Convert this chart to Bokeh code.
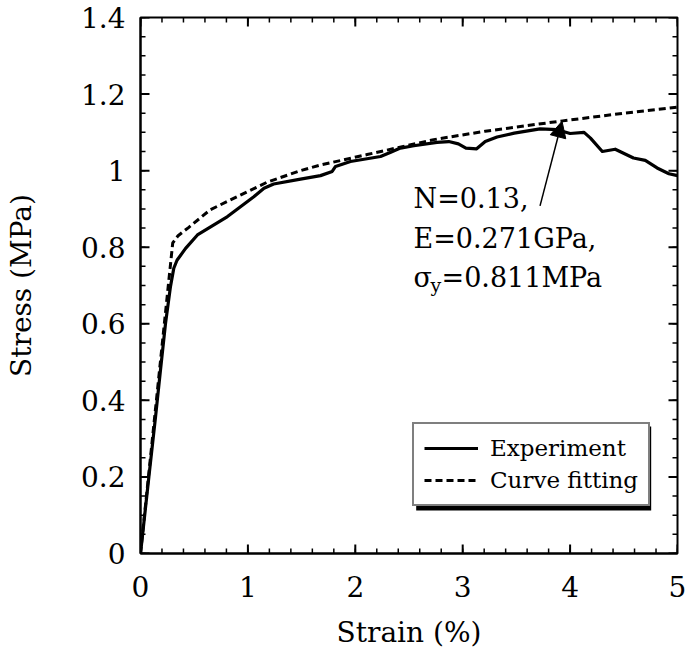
import numpy as np
from bokeh.plotting import figure
from bokeh.models import (Range1d, FixedTicker, Legend, LegendItem,
                          Label, Arrow, NormalHead, BoxAnnotation)
from bokeh.embed import file_html
from bokeh.resources import INLINE

# ---------------- data ----------------
exp_strain = [0.0, 0.078, 0.14, 0.186, 0.233, 0.279, 0.31, 0.34, 0.42, 0.53, 0.81,
              1.055, 1.15, 1.24, 1.49, 1.676, 1.785, 1.816, 1.955, 2.235, 2.33,
              2.42, 2.545, 2.76, 2.87, 2.96, 3.03, 3.13, 3.21, 3.32, 3.48, 3.72,
              3.88, 4.0, 4.13, 4.19, 4.30, 4.42, 4.59, 4.70, 4.81, 4.92, 5.0]
exp_stress = [0.0, 0.20, 0.357, 0.479, 0.601, 0.697, 0.745, 0.766, 0.797, 0.832, 0.880,
              0.932, 0.954, 0.965, 0.978, 0.987, 0.998, 1.011, 1.024, 1.037, 1.048,
              1.059, 1.065, 1.074, 1.076, 1.070, 1.059, 1.057, 1.076, 1.088, 1.098, 1.109,
              1.107, 1.097, 1.100, 1.085, 1.050, 1.056, 1.033, 1.027, 1.007, 0.992, 0.987]

fit_strain = [0.0, 0.30, 0.35, 0.45, 0.65, 0.9, 1.18, 1.49, 1.68, 2.11, 2.73,
              3.21, 3.93, 4.5, 5.0]
fit_stress = [0.0, 0.811, 0.83, 0.852, 0.898, 0.932, 0.970, 1.000, 1.015, 1.042, 1.081,
              1.103, 1.130, 1.150, 1.166]

x_ticks = [0, 1, 2, 3, 4, 5]
x_tick_labels = ["0", "1", "2", "3", "4", "5"]
y_ticks = [0, 0.2, 0.4, 0.6, 0.8, 1.0, 1.2, 1.4]
y_tick_labels = ["0", "0.2", "0.4", "0.6", "0.8", "1", "1.2", "1.4"]
x_minor_step = 0.2
y_minor_step = 0.05

series_names = ["Experiment", "Curve fitting"]
annot_lines = ["N=0.13,", "E=0.271GPa,"]
annot_sigma = ["\u03c3", "y", "=0.811MPa"]

FONT = "DejaVu Serif"
X0, X1, Y0, Y1 = 0, 5, 0, 1.4

p = figure(width=686, height=663, x_range=Range1d(X0, X1), y_range=Range1d(Y0, Y1),
           output_backend="svg", toolbar_location=None,
           min_border_left=140, min_border_right=9, min_border_top=17, min_border_bottom=110,
           background_fill_color="white", border_fill_color="white")
p.grid.visible = False
p.outline_line_color = "black"
p.outline_line_width = 2

# ---------------- axes (labels only; tick marks drawn below) ----------------
for ax, ticks, labels in ((p.xaxis[0], x_ticks, x_tick_labels),
                          (p.yaxis[0], y_ticks, y_tick_labels)):
    ax.ticker = FixedTicker(ticks=ticks, minor_ticks=[])
    ax.major_label_overrides = {t: l for t, l in zip(ticks, labels)}
    ax.axis_line_color = "black"
    ax.axis_line_width = 2
    ax.major_tick_in = 0
    ax.major_tick_out = 0
    ax.minor_tick_in = 0
    ax.minor_tick_out = 0
    ax.major_label_text_font = FONT
    ax.major_label_text_color = "black"
    ax.major_label_text_font_size = "28px"
    ax.axis_label_text_font = FONT
    ax.axis_label_text_font_style = "normal"
    ax.axis_label_text_color = "black"
    ax.axis_label_text_font_size = "28px"

p.xaxis[0].axis_label = "Strain (%)"
p.xaxis[0].major_label_standoff = 22
p.xaxis[0].axis_label_standoff = 16
p.yaxis[0].axis_label = "Stress (MPa)"
p.yaxis[0].major_label_standoff = 15
p.yaxis[0].axis_label_standoff = 40

# ---------------- inward tick marks on all four sides (thin filled bars) ----------------
x_minor = np.round(np.arange(X0, X1 + 1e-9, x_minor_step), 4)
y_minor = np.round(np.arange(Y0, Y1 + 1e-9, y_minor_step), 4)
x_major = np.array(x_ticks, dtype=float)
y_major = np.array(y_ticks, dtype=float)
px_per_x = 537.0 / (X1 - X0)
px_per_y = 536.0 / (Y1 - Y0)
MAJ, MIN = 9.0, 5.0

for pos, ln, w in ((x_minor, MIN, 1.5), (x_major, MAJ, 2.0)):
    d = ln / px_per_y
    hw = (w / 2.0) / px_per_x
    p.quad(left=pos - hw, right=pos + hw, bottom=np.full(len(pos), float(Y0)),
           top=np.full(len(pos), Y0 + d), fill_color="black", line_color=None)
    p.quad(left=pos - hw, right=pos + hw, bottom=np.full(len(pos), Y1 - d),
           top=np.full(len(pos), float(Y1)), fill_color="black", line_color=None)
for pos, ln, w in ((y_minor, MIN, 1.5), (y_major, MAJ, 2.0)):
    d = ln / px_per_x
    hw = (w / 2.0) / px_per_y
    p.quad(left=np.full(len(pos), float(X0)), right=np.full(len(pos), X0 + d),
           bottom=pos - hw, top=pos + hw, fill_color="black", line_color=None)
    p.quad(left=np.full(len(pos), X1 - d), right=np.full(len(pos), float(X1)),
           bottom=pos - hw, top=pos + hw, fill_color="black", line_color=None)

# ---------------- lines ----------------
r_exp = p.line(exp_strain, exp_stress, line_color="black", line_width=3.2, line_join="round")
r_fit = p.line(fit_strain, fit_stress, line_color="black", line_width=3, line_dash="7 4")

# ---------------- legend with shadow ----------------
shadow = BoxAnnotation(left=2.567, right=4.755, bottom=0.1125, top=0.332,
                       fill_color="black", fill_alpha=1.0, line_color=None)
p.add_layout(shadow)

legend = Legend(items=[LegendItem(label=series_names[0], renderers=[r_exp]),
                       LegendItem(label=series_names[1], renderers=[r_fit])],
                location=(272, 47), padding=10, spacing=4, label_height=28,
                glyph_width=54, glyph_height=28, label_standoff=12, label_width=147,
                label_text_font=FONT, label_text_font_size="23px", label_text_color="black",
                border_line_color="black", border_line_width=2,
                background_fill_color="white", background_fill_alpha=1.0,
                margin=0)
p.add_layout(legend, "center")

# ---------------- annotation ----------------
ann_x = 2.542
ann_y = [0.926, 0.823, 0.722]
for txt, yy in zip(annot_lines, ann_y[:2]):
    p.add_layout(Label(x=ann_x, y=yy, text=txt, text_font=FONT, text_font_size="27px",
                       text_color="black", text_baseline="middle"))
p.add_layout(Label(x=ann_x, y=ann_y[2], text=annot_sigma[0], text_font=FONT,
                   text_font_size="27px", text_color="black", text_baseline="middle"))
p.add_layout(Label(x=ann_x, y=ann_y[2], x_offset=17, y_offset=-8, text=annot_sigma[1],
                   text_font=FONT, text_font_size="19px", text_color="black",
                   text_baseline="middle"))
p.add_layout(Label(x=ann_x, y=ann_y[2], x_offset=28, text=annot_sigma[2], text_font=FONT,
                   text_font_size="27px", text_color="black", text_baseline="middle"))

arrow_start = (3.72, 0.908)
arrow_end = (3.925, 1.129)
p.add_layout(Arrow(end=NormalHead(size=16, fill_color="black", line_color="black", line_width=1),
                   x_start=arrow_start[0], y_start=arrow_start[1],
                   x_end=arrow_end[0], y_end=arrow_end[1],
                   line_color="black", line_width=1.5))

open("out.html", "w").write(file_html(p, INLINE))
